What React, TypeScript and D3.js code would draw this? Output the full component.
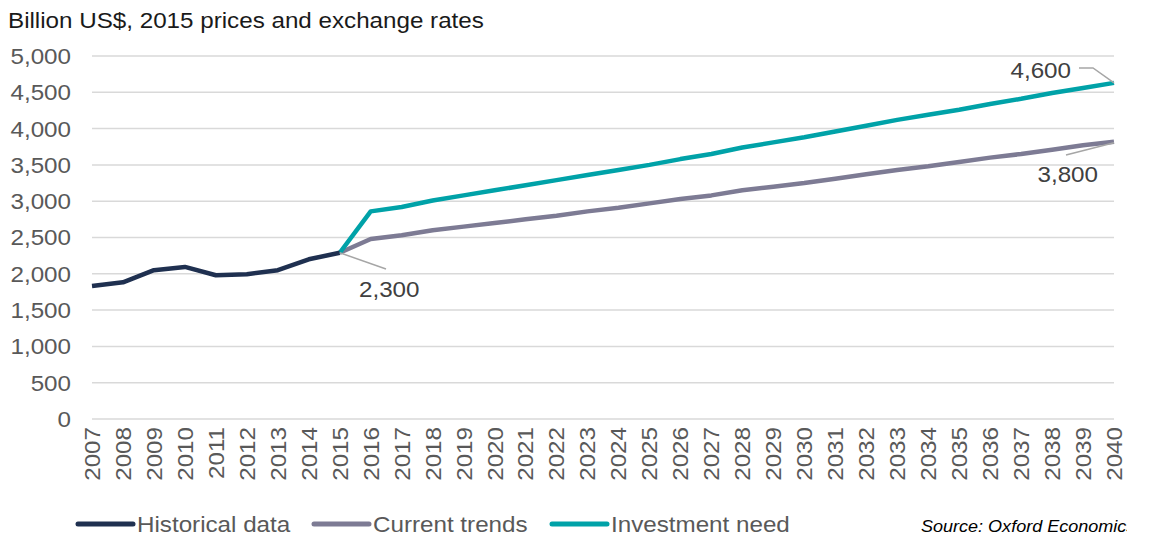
import React from "react";
import * as d3 from "d3";

const years = d3.range(2007, 2041).map(String);
const historical: [string, number][] = [
  ["2007", 1832], ["2008", 1883], ["2009", 2050], ["2010", 2095], ["2011", 1980],
  ["2012", 1993], ["2013", 2050], ["2014", 2200], ["2015", 2290],
];
const currentTrends: [string, number][] = [
  ["2015", 2290], ["2016", 2480], ["2017", 2530], ["2018", 2600], ["2019", 2650], ["2020", 2700],
  ["2021", 2750], ["2022", 2800], ["2023", 2860], ["2024", 2910], ["2025", 2970],
  ["2026", 3030], ["2027", 3080], ["2028", 3150], ["2029", 3200], ["2030", 3250],
  ["2031", 3310], ["2032", 3370], ["2033", 3430], ["2034", 3480], ["2035", 3540],
  ["2036", 3600], ["2037", 3650], ["2038", 3710], ["2039", 3770], ["2040", 3820],
];
const investmentNeed: [string, number][] = [
  ["2015", 2290], ["2016", 2860], ["2017", 2920], ["2018", 3010], ["2019", 3080], ["2020", 3150],
  ["2021", 3220], ["2022", 3290], ["2023", 3360], ["2024", 3430], ["2025", 3500],
  ["2026", 3580], ["2027", 3650], ["2028", 3740], ["2029", 3810], ["2030", 3880],
  ["2031", 3960], ["2032", 4040], ["2033", 4120], ["2034", 4190], ["2035", 4260],
  ["2036", 4340], ["2037", 4410], ["2038", 4490], ["2039", 4560], ["2040", 4630],
];
const yTicks = [0, 500, 1000, 1500, 2000, 2500, 3000, 3500, 4000, 4500, 5000];
const seriesNames = ["Historical data", "Current trends", "Investment need"];
const seriesColors = ["#1f3050", "#7d7b94", "#00a2a8"];

const W = 1149, H = 538;
const left = 92, right = 1114, top = 56, bottom = 419;
const FONT = "'Liberation Sans', Arial, sans-serif";
const TXT = "#595959";
const SX = 1.1;

function T(props: { x: number; y: number; rot?: boolean; size?: number; anchor?: string; fill?: string; dy?: string; italic?: boolean; children: React.ReactNode }) {
  const { x, y, rot, size = 22, anchor = "start", fill = TXT, dy, italic, children } = props;
  return (
    <text
      transform={`translate(${x},${y})${rot ? " rotate(-90)" : ""} scale(${SX},1)`}
      dy={dy}
      textAnchor={anchor}
      fontSize={size}
      fill={fill}
      fontStyle={italic ? "italic" : undefined}
    >
      {children}
    </text>
  );
}

export default function App() {
  const x = d3.scalePoint<string>().domain(years).range([left, right]);
  const y = d3.scaleLinear().domain([0, 5000]).range([bottom, top]);
  const line = d3.line<[string, number]>().x((d) => x(d[0])!).y((d) => y(d[1]));
  const fmt = d3.format(",");
  const series = [historical, currentTrends, investmentNeed];
  const drawOrder = [1, 2, 0];

  const legendX = [78, 314, 552];

  return (
    <svg width={W} height={H} style={{ position: "absolute", left: 0, top: 0, background: "#fff" }} fontFamily={FONT}>
      <defs>
        <clipPath id="srcClip"><rect x={0} y={500} width={1127} height={38} /></clipPath>
      </defs>
      <T x={8} y={28} fill="#1a1a1a">Billion US$, 2015 prices and exchange rates</T>
      {yTicks.map((t) => (
        <g key={t}>
          <line x1={left} x2={right} y1={y(t)} y2={y(t)} stroke="#d9d9d9" strokeWidth={1.5} />
          <T x={71} y={y(t)} dy="0.36em" anchor="end">{fmt(t)}</T>
        </g>
      ))}
      {years.map((yr) => (
        <T key={yr} x={x(yr)!} y={427} rot dy="0.36em" anchor="end">{yr}</T>
      ))}
      {drawOrder.map((i) => (
        <path key={i} d={line(series[i])!} fill="none" stroke={seriesColors[i]} strokeWidth={4.5} strokeLinejoin="round" />
      ))}
      {/* annotations */}
      <line x1={x("2015")} y1={y(2290)} x2={386} y2={269} stroke="#a6a6a6" strokeWidth={1.5} />
      <T x={359} y={297} fill="#404040">{fmt(2300)}</T>
      <polyline points={`1079,68 1093,68 ${x("2040")},${y(4630)}`} fill="none" stroke="#a6a6a6" strokeWidth={1.5} />
      <T x={1071} y={78} anchor="end" fill="#404040">{fmt(4600)}</T>
      <line x1={1066} y1={155} x2={x("2040")} y2={y(3820) + 1} stroke="#a6a6a6" strokeWidth={1.5} />
      <T x={1098} y={182} anchor="end" fill="#404040">{fmt(3800)}</T>
      {/* legend */}
      {seriesNames.map((n, i) => (
        <g key={n}>
          <line x1={legendX[i]} x2={legendX[i] + 55} y1={524} y2={524} stroke={seriesColors[i]} strokeWidth={5} strokeLinecap="round" />
          <T x={legendX[i] + 59} y={532}>{n}</T>
        </g>
      ))}
      <g clipPath="url(#srcClip)">
        <T x={921} y={532} size={16.4} italic fill="#000">Source: Oxford Economics</T>
      </g>
    </svg>
  );
}
